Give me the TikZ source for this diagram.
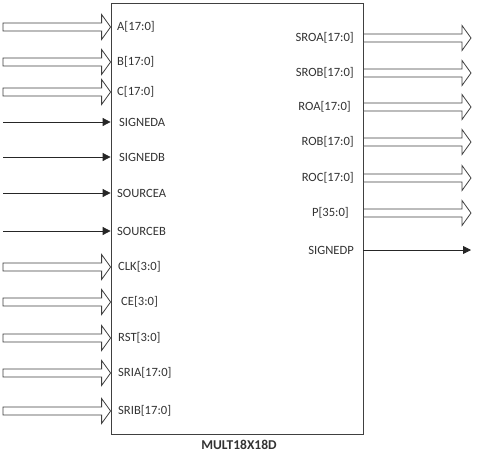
\documentclass[tikz,border=0pt]{standalone}
\usepackage{fontspec}
\setmainfont{Carlito}
\usetikzlibrary{calc,arrows.meta}
\tikzset{
  bus/.style={draw=black!75, fill=white, line width=0.8pt, line join=miter,
    to path={let \p1=(\tikztostart), \p2=(\tikztotarget) in
      (\x1,\y1+4pt) -- (\x2-9pt,\y1+4pt) -- (\x2-9pt,\y1+12.5pt) -- (\x2,\y1)
      -- (\x2-9pt,\y1-12.5pt) -- (\x2-9pt,\y1-4pt) -- (\x1,\y1-4pt) -- cycle}},
  sig/.style={draw=black!85, line width=0.8pt, -{Triangle[length=8pt,width=8pt]}},
  lab/.style={font=\fontsize{12.6}{14}\selectfont, text=black!80, inner sep=0pt},
  llab/.style={lab, anchor=west},
  rlab/.style={lab, anchor=east},
  blk/.style={draw=black!75, line width=0.8pt, minimum width=252pt, minimum height=431pt, inner sep=0pt}
}
\begin{document}
\begin{tikzpicture}[x=1pt,y=-1pt]
\useasboundingbox (0,0) rectangle (481,455);
\node[blk] (box) at (237,218.5) {};
% left inputs
\foreach \nm/\yy/\t/\k/\lx in {A/27/{A[17:0]}/bus/117, B/62/{B[17:0]}/bus/117, C/92/{C[17:0]}/bus/117,
  SA/122/SIGNEDA/sig/119, SB/157/SIGNEDB/sig/119, OA/193/SOURCEA/sig/117, OB/231/SOURCEB/sig/117,
  CLK/267/{CLK[3:0]}/bus/118, CE/302/{CE[3:0]}/bus/121, RST/338/{RST[3:0]}/bus/118,
  SRIA/373/{SRIA[17:0]}/bus/118, SRIB/411/{SRIB[17:0]}/bus/118}{
  \coordinate (s\nm) at (3,\yy);
  \coordinate (e\nm) at (box.west |- s\nm);
  \draw[\k] (s\nm) to (e\nm);
  \node[llab] (l\nm) at (\lx,\yy) {\t};
}
% right outputs
\foreach \nm/\yy/\t/\k/\lx in {SROA/38/{SROA[17:0]}/bus/354, SROB/73/{SROB[17:0]}/bus/354,
  ROA/107/{ROA[17:0]}/bus/351, ROB/142/{ROB[17:0]}/bus/354, ROC/178/{ROC[17:0]}/bus/354,
  P/213/{P[35:0]}/bus/349, SP/250/SIGNEDP/sig/354}{
  \coordinate (e\nm) at (471,\yy);
  \coordinate (s\nm) at (box.east |- e\nm);
  \draw[\k] (s\nm) to (e\nm);
  \node[rlab] (l\nm) at (\lx,\yy) {\t};
}
\node[lab, font=\fontsize{13.5}{15}\selectfont\bfseries] (title) at (239,445) {MULT18X18D};
\end{tikzpicture}
\end{document}
